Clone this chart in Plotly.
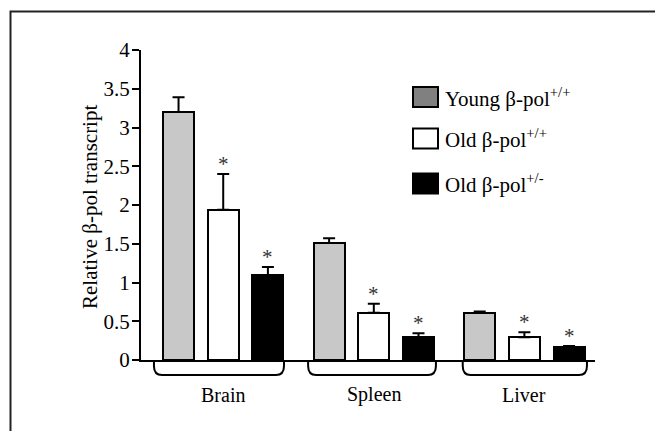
import plotly.graph_objects as go

# ---- data ----
tissues = ["Brain", "Spleen", "Liver"]
series_names = ["Young β-pol<sup>+/+</sup>", "Old β-pol<sup>+/+</sup>", "Old β-pol<sup>+/-</sup>"]
young_wt = [3.20, 1.51, 0.61]
young_wt_err = [0.19, 0.06, 0.015]
old_wt = [1.94, 0.61, 0.294]
old_wt_err = [0.46, 0.115, 0.065]
old_het = [1.095, 0.294, 0.165]
old_het_err = [0.105, 0.052, 0.015]
significant = [[False, False, False], [True, True, True], [True, True, True]]
y_ticks = [0, 0.5, 1, 1.5, 2, 2.5, 3, 3.5, 4]
y_tick_labels = ["0", "0.5", "1", "1.5", "2", "2.5", "3", "3.5", "4"]
y_title = "Relative β-pol transcript"

values = [young_wt, old_wt, old_het]
errors = [young_wt_err, old_wt_err, old_het_err]
bar_colors = ["#c8c8c8", "#ffffff", "#000000"]
legend_colors = ["#808080", "#ffffff", "#000000"]

FONT = "Liberation Serif"
FS = 20
W, H = 655, 431
ML, MR, MT, MB = 141, 60, 50, 71
PW, PH = W - ML - MR, H - MT - MB
GROUP_STEP = 3.37
XMIN, XMAX = -0.84, 9.32


def pxx(px):
    return (px - ML) / PW


def pxy(py):
    return (H - MB - py) / PH


def d2p(x):
    return (x - XMIN) / (XMAX - XMIN)


fig = go.Figure()
annotations = []
shapes = []

for j in range(3):
    xs = [i * GROUP_STEP + j for i in range(len(tissues))]
    fig.add_trace(go.Bar(
        x=xs, y=values[j], width=0.69, name=series_names[j],
        marker=dict(color=bar_colors[j], line=dict(color="black", width=2)),
        error_y=dict(type="data", array=errors[j], arrayminus=[0] * 3, symmetric=False,
                     color="black", thickness=2, width=6),
        showlegend=False,
    ))
    for i in range(len(tissues)):
        if significant[j][i]:
            annotations.append(dict(
                x=xs[i], y=values[j][i] + errors[j][i], xref="x", yref="y",
                text="*", showarrow=False, yanchor="bottom", yshift=-4,
                font=dict(family=FONT, size=21, color="#333"),
            ))

# brackets under groups
br_left = [-0.55, -0.47, -0.38]
br_right = [2.36, 2.39, 2.40]
y_top = pxy(H - MB + 1)
y_bot = pxy(375)
for i in range(len(tissues)):
    x0 = d2p(i * GROUP_STEP + br_left[i])
    x1 = d2p(i * GROUP_STEP + br_right[i])
    rx = 8 / PW
    ry = 9 / PH
    path = (f"M {x0},{y_top} L {x0},{y_bot + ry} Q {x0},{y_bot} {x0 + rx},{y_bot} "
            f"L {x1 - rx},{y_bot} Q {x1},{y_bot} {x1},{y_bot + ry} L {x1},{y_top}")
    shapes.append(dict(type="path", xref="paper", yref="paper", path=path,
                       line=dict(color="black", width=2)))
    annotations.append(dict(
        x=i * GROUP_STEP + 1, y=pxy(395), xref="x", yref="paper", text=tissues[i],
        showarrow=False, yanchor="middle", xanchor="center",
        font=dict(family=FONT, size=FS, color="black"),
    ))

# custom legend
box_centers = [97, 138.5, 183.5]
for k in range(3):
    cy = box_centers[k]
    shapes.append(dict(type="rect", xref="paper", yref="paper",
                       x0=pxx(413), x1=pxx(438), y0=pxy(cy + 10), y1=pxy(cy - 10),
                       fillcolor=legend_colors[k], line=dict(color="black", width=2)))
    annotations.append(dict(
        x=pxx(443), y=pxy(cy), xref="paper", yref="paper", text=series_names[k],
        showarrow=False, xanchor="left", yanchor="middle",
        font=dict(family=FONT, size=21, color="black"),
    ))

# y-axis title
annotations.append(dict(
    x=pxx(90), y=pxy(207), xref="paper", yref="paper", text=y_title, textangle=-90,
    showarrow=False, xanchor="center", yanchor="middle",
    font=dict(family=FONT, size=FS + 1, color="black"),
))

# outer frame
shapes.append(dict(type="rect", xref="paper", yref="paper",
                   x0=pxx(10.5), x1=pxx(670), y0=pxy(450), y1=pxy(11.5),
                   line=dict(color="#222", width=2), fillcolor="rgba(0,0,0,0)"))

fig.update_layout(
    width=W, height=H,
    margin=dict(l=ML, r=MR, t=MT, b=MB),
    paper_bgcolor="white", plot_bgcolor="white",
    bargap=0, barmode="overlay",
    font=dict(family=FONT, size=FS, color="black"),
    xaxis=dict(range=[XMIN, XMAX], showgrid=False, zeroline=False, showline=True,
               linecolor="black", linewidth=2, showticklabels=False, ticks=""),
    yaxis=dict(range=[0, 4], showgrid=False, zeroline=False, showline=True,
               linecolor="black", linewidth=2, ticks="outside", ticklen=7, tickwidth=2,
               tickcolor="black", tickvals=y_ticks, ticktext=y_tick_labels,
               ticklabelstandoff=-2,
               tickfont=dict(family=FONT, size=FS + 1, color="black")),
    annotations=annotations,
    shapes=shapes,
)

fig.write_html("out.html")
